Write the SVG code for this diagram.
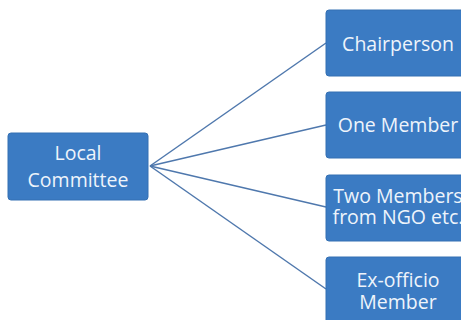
<svg xmlns="http://www.w3.org/2000/svg" width="461" height="320" viewBox="0 0 461 320">
<style>
.box{fill:#3b7bc3;stroke:#3570b3;stroke-width:1}
.t{font-family:"Open Sans","Liberation Sans",sans-serif;font-size:19.5px;fill:#eef4fb;text-anchor:middle}
.c{stroke:#4f78ad;stroke-width:1.5;fill:none}
</style>
<rect width="461" height="320" fill="#ffffff"/>
<g id="connectors">
<line class="c" x1="150" y1="166" x2="326" y2="43"/>
<line class="c" x1="150" y1="166" x2="326" y2="125"/>
<line class="c" x1="150" y1="166" x2="326" y2="207"/>
<line class="c" x1="150" y1="166" x2="326" y2="289"/>
</g>
<g id="local-committee">
<rect class="box" x="8" y="133" width="140" height="67" rx="3"/>
<text class="t" x="78" y="160">Local</text>
<text class="t" x="78" y="187">Committee</text>
</g>
<g id="chairperson">
<rect class="box" x="326" y="10" width="144" height="66" rx="3"/>
<text class="t" x="398" y="51">Chairperson</text>
</g>
<g id="one-member">
<rect class="box" x="326" y="92" width="144" height="66" rx="3"/>
<text class="t" x="398" y="132">One Member</text>
</g>
<g id="two-members">
<rect class="box" x="326" y="175" width="144" height="66" rx="3"/>
<text class="t" x="398" y="203">Two Members</text>
<text class="t" x="398" y="224">from NGO etc.</text>
</g>
<g id="ex-officio">
<rect class="box" x="326" y="257" width="144" height="66" rx="3"/>
<text class="t" x="398" y="287">Ex-officio</text>
<text class="t" x="398" y="309">Member</text>
</g>
</svg>
